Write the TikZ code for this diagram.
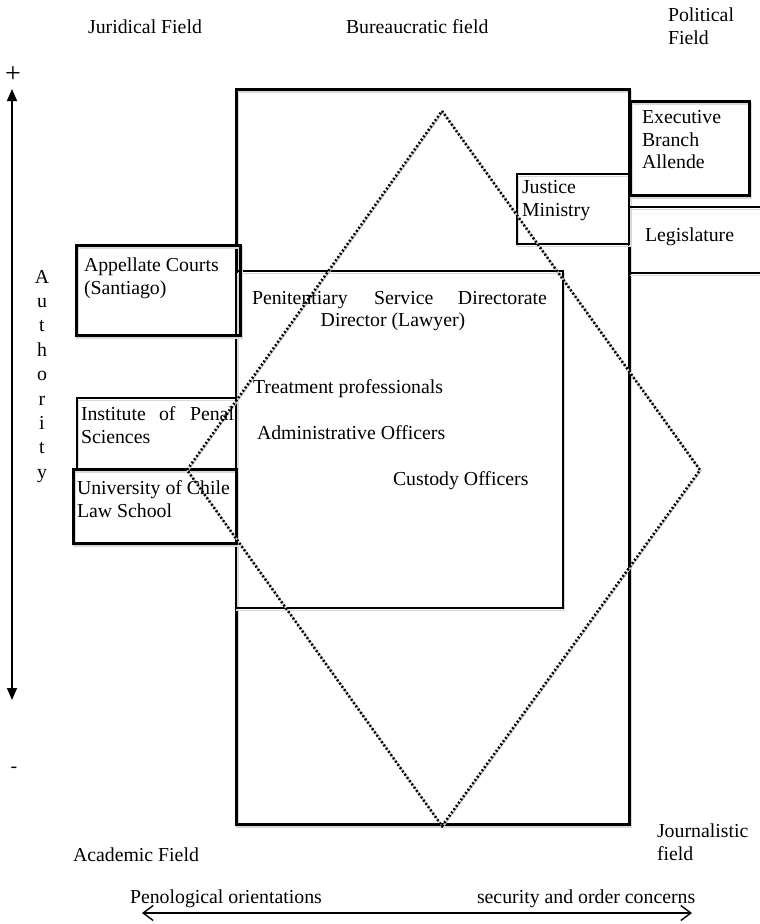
\documentclass[tikz,border=0pt]{standalone}
\usepackage{fontspec}
\setmainfont{Liberation Serif}
\usetikzlibrary{arrows.meta}
\begin{document}
\begin{tikzpicture}[x=1pt,y=-1pt,
  every node/.style={inner sep=0pt, outer sep=0pt, font=\fontsize{19.8}{22.5}\selectfont},
  lbl/.style={anchor=base west},
  shadowed/.style={preaction={draw=black!15, transform canvas={xshift=1pt,yshift=-2.5pt}}},
  heavybox/.style={draw, line width=3pt, shadowed, anchor=north west},
  lightbox/.style={draw, line width=1.3pt, shadowed, anchor=north west},
  thinline/.style={line width=1.3pt, shadowed},
  dotline/.style={line width=2.6pt, dash pattern=on 1.8pt off 2.2pt,
    preaction={draw=black!20, solid, line width=1.8pt,
      transform canvas={xshift=0.8pt,yshift=-0.8pt}}},
  axisarrow/.style={line width=1.5pt, {Triangle[length=12pt,width=10pt]}-{Triangle[length=12pt,width=10pt]}},
  spanarrow/.style={line width=1.4pt, {Straight Barb[length=10pt,width=15pt,line width=1.4pt]}-{Straight Barb[length=10pt,width=15pt,line width=1.4pt]}}
]
\useasboundingbox (0,0) rectangle (760,924);

% field boxes
\node[heavybox, minimum width=393pt, minimum height=735pt] (bureau) at (236,89) {};
\node[lightbox, minimum width=327pt, minimum height=337pt] (service) at (236,271) {};
\node[lightbox, minimum width=112pt, minimum height=70pt] (justice) at (517,174) {};
\node[heavybox, minimum width=119pt, minimum height=94pt] (exec) at (630,101) {};
\node[heavybox, minimum width=164pt, minimum height=90pt] (appellate) at (76,245) {};
\node[lightbox, minimum width=159pt, minimum height=72pt] (institute) at (77,398) {};
\node[heavybox, minimum width=163pt, minimum height=74pt] (univ) at (73,469) {};

% legislature band, open to the right
\coordinate (legTL) at (629,207);
\coordinate (legTR) at (760,207);
\coordinate (legBL) at (629,273);
\coordinate (legBR) at (760,273);
\draw[thinline] (legTL) -- (legTR);
\draw[thinline] (legBL) -- (legBR);

% dotted diamond
\coordinate (dTop) at (442,111);
\coordinate (dRight) at (700,470);
\coordinate (dBottom) at (442,826);
\coordinate (dLeft) at (187,470);
\draw[dotline] (dTop) -- (dRight) -- (dBottom) -- (dLeft) -- cycle;

% authority axis
\coordinate (authTop) at (12,89);
\coordinate (authBot) at (12,700);
\draw[axisarrow] (authTop) -- (authBot);
\node[font=\fontsize{28}{28}\selectfont] (plus) at (13,75) {+};
\node (minus) at (14,770) {-};
\foreach \ch [count=\k from 0] in {A,u,t,h,o,r,i,t,y}
  \node[anchor=base] (auth\k) at (42,{283+24.4*\k}) {\ch};

% orientation axis
\coordinate (orLeft) at (142,913);
\coordinate (orRight) at (692,913);
\draw[spanarrow] (orLeft) -- (orRight);
\node[lbl] (peno) at (130,903) {Penological orientations};
\node[lbl] (secu) at (477,903) {security and order concerns};

% field names
\node[anchor=base] (jurid) at (145,33) {Juridical Field};
\node[lbl] (bureaulbl) at (346,33) {Bureaucratic field};
\node[lbl] (pol1) at (668,21) {Political};
\node[lbl] (pol2) at (668,44) {Field};
\node[lbl] (acad) at (73,861) {Academic Field};
\node[lbl] (jour1) at (657,837) {Journalistic};
\node[lbl] (jour2) at (657,860) {field};

% box texts
\node[lbl] (ex1) at (642,123.5) {Executive};
\node[lbl] (ex2) at (642,146) {Branch};
\node[lbl] (ex3) at (642,168.5) {Allende};
\node[lbl] (ju1) at (522,193) {Justice};
\node[lbl] (ju2) at (522,216) {Ministry};
\node[lbl] (leg) at (645,241) {Legislature};
\node[lbl] (ap1) at (84,271) {Appellate Courts};
\node[lbl] (ap2) at (84,294) {(Santiago)};
\node[lbl] (ps1) at (252,304) {Penitentiary};
\node[lbl] (ps2) at (374,304) {Service};
\node[anchor=base east] (ps3) at (547,304) {Directorate};
\node[anchor=base] (ps4) at (393,326) {Director (Lawyer)};
\node[lbl] (in1) at (81,420) {Institute};
\node[lbl] (in2) at (159,420) {of};
\node[anchor=base east] (in3) at (234,420) {Penal};
\node[lbl] (in4) at (81,443) {Sciences};
\node[lbl] (un1) at (77,494) {University of Chile};
\node[lbl] (un2) at (77,517) {Law School};
\node[lbl] (treat) at (253,393) {Treatment professionals};
\node[lbl] (admin) at (257,439) {Administrative Officers};
\node[lbl] (cust) at (393,485) {Custody Officers};
\end{tikzpicture}
\end{document}
